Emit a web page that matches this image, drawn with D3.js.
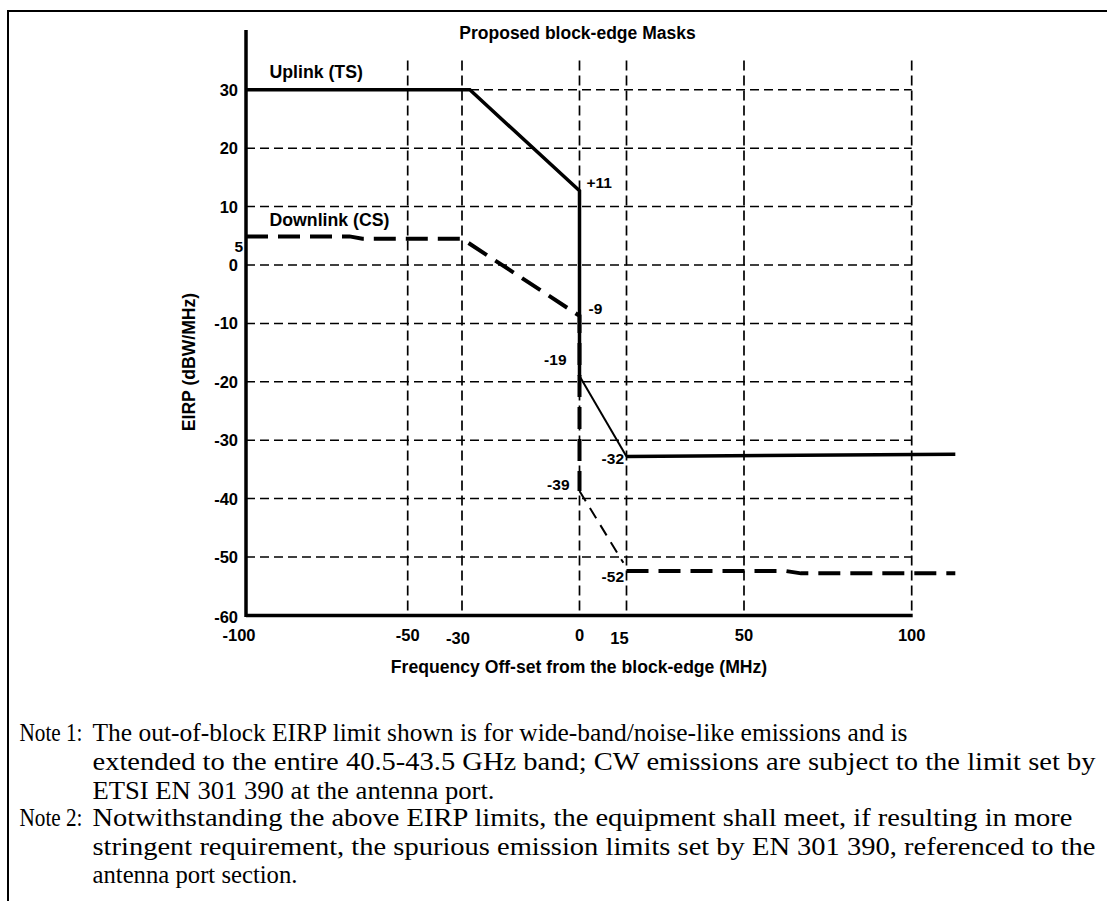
<!DOCTYPE html>
<html>
<head>
<meta charset="utf-8">
<script src="https://cdn.jsdelivr.net/npm/d3@7"></script>
<style>
  html, body { margin: 0; padding: 0; background: #fff; }
  svg { display: block; }
  .chart-text { font-family: "Liberation Sans", Arial, sans-serif; font-weight: bold; fill: #000; }
  .note-text { font-family: "Liberation Serif", "Times New Roman", serif; fill: #000; }
</style>
</head>
<body>
<svg id="chart"></svg>
<script>
const width = 1107;
const height = 901;

// tick values (x axis is not evenly spaced in the original)
const xTicks = [-100, -50, -30, 0, 15, 50, 100];
const yTicks = [30, 20, 10, 0, -10, -20, -30, -40, -50, -60];

// Uplink (TS) mask
const upFreq = [-100, -28, 0, 0];
const upEirp = [30, 30, 12.7, -19];
const upSlopeFreq = [0, 15];
const upSlopeEirp = [-19, -32.8];
const upFloorFreq = [15, 113];
const upFloorEirp = [-32.8, -32.4];

// Downlink (CS) mask
const downFreq = [-100, -68, -64, -30, 0, 0];
const downEirp = [4.9, 4.9, 4.5, 4.5, -8.7, -38.7];
const downSlopeFreq = [0, 14];
const downSlopeEirp = [-38.7, -51];
const downFloorFreq = [15, 62.5, 67, 113];
const downFloorEirp = [-52.4, -52.4, -52.8, -52.8];

// value labels on the curves
const labelText = ["+11", "-9", "-19", "-32", "-39", "-52", "5"];
const labelFreq = [0, 0, 0, 15, 0, 15, -100];
const labelEirp = [12.7, -8.7, -19, -32.8, -38.7, -52.4, 4.9];

const notes = [
    ["Note 1:", "The out-of-block EIRP limit shown is for wide-band/noise-like emissions and is"],
    ["", "extended to the entire 40.5-43.5 GHz band; CW emissions are subject to the limit set by"],
    ["", "ETSI EN 301 390 at the antenna port."],
    ["Note 2:", "Notwithstanding the above EIRP limits, the equipment shall meet, if resulting in more"],
    ["", "stringent requirement, the spurious emission limits set by EN 301 390, referenced to the"],
    ["", "antenna port section."]
];

// layout
const x = d3.scaleLinear()
    .domain(xTicks)
    .range([246, 407.7, 462, 579.5, 626.5, 744, 911.7]);
const y = d3.scaleLinear().domain([-60, 30]).range([615.4, 89.8]);

// [dx, dy, anchor] for each value label
const labelOffsets = [
    [7, -8, "start"], [9, -7.5, "start"], [-13, -16, "end"], [-2.5, 2, "end"],
    [-10, -7, "end"], [-2.5, 5, "end"], [-3, 10, "end"]
];
const xTickOffsets = { "-100": [-7, 0], "-30": [-4, 3], "15": [-7, 3] };
const noteBaselines = [741, 770, 799, 826, 855, 883];
const noteWidths = [815, 1003, 402, 980, 1003, 205];

const svg = d3.select("#chart")
    .attr("width", width)
    .attr("height", height);

// frame around the figure
svg.append("path")
    .attr("d", "M8,901V11H1107")
    .attr("fill", "none")
    .attr("stroke", "#000")
    .attr("stroke-width", 2);

// grid
const grid = svg.append("g").attr("stroke", "#000").attr("fill", "none");
grid.selectAll(".hgrid")
    .data(yTicks.filter(d => d > -60))
    .join("line")
    .attr("x1", x(-100)).attr("x2", x(100))
    .attr("y1", d => y(d)).attr("y2", d => y(d))
    .attr("stroke-width", 1.5)
    .attr("stroke-dasharray", "9,5");
grid.selectAll(".vgrid")
    .data(xTicks.filter(d => d > -100))
    .join("line")
    .attr("x1", d => x(d)).attr("x2", d => x(d))
    .attr("y1", y(35)).attr("y2", y(-60))
    .attr("stroke-width", 1.7)
    .attr("stroke-dasharray", "10,5");

// axes
svg.append("line")
    .attr("x1", x(-100)).attr("x2", x(-100))
    .attr("y1", 30).attr("y2", y(-60) + 1.5)
    .attr("stroke", "#000").attr("stroke-width", 3.5);
svg.append("line")
    .attr("x1", x(-100)).attr("x2", x(100) + 1)
    .attr("y1", y(-60)).attr("y2", y(-60))
    .attr("stroke", "#000").attr("stroke-width", 3.5);

svg.append("g").selectAll("text")
    .data(yTicks)
    .join("text")
    .attr("class", "chart-text")
    .attr("x", x(-100) - 8)
    .attr("y", d => y(d) + (d === -60 ? 2 : 0))
    .attr("text-anchor", "end")
    .attr("dominant-baseline", "central")
    .attr("font-size", 16.5)
    .text(d => d);

svg.append("g").selectAll("text")
    .data(xTicks)
    .join("text")
    .attr("class", "chart-text")
    .attr("x", d => x(d) + (xTickOffsets[d] ? xTickOffsets[d][0] : 0))
    .attr("y", d => y(-60) + 20 + (xTickOffsets[d] ? xTickOffsets[d][1] : 0))
    .attr("text-anchor", "middle")
    .attr("dominant-baseline", "central")
    .attr("font-size", 16.5)
    .text(d => d);

// titles
svg.append("text")
    .attr("class", "chart-text")
    .attr("x", 577.5).attr("y", 33)
    .attr("text-anchor", "middle")
    .attr("dominant-baseline", "central")
    .attr("font-size", 17.5)
    .text("Proposed block-edge Masks");

svg.append("text")
    .attr("class", "chart-text")
    .attr("x", 579).attr("y", 667)
    .attr("text-anchor", "middle")
    .attr("dominant-baseline", "central")
    .attr("font-size", 17.6)
    .text("Frequency Off-set from the block-edge (MHz)");

svg.append("text")
    .attr("class", "chart-text")
    .attr("transform", "translate(189,362) rotate(-90)")
    .attr("text-anchor", "middle")
    .attr("dominant-baseline", "central")
    .attr("font-size", 17.6)
    .text("EIRP (dBW/MHz)");

// mask curves
const line = d3.line().x(d => x(d[0])).y(d => y(d[1]));

function drawMask(freq, eirp, strokeWidth, dash) {
    svg.append("path")
        .datum(d3.zip(freq, eirp))
        .attr("d", line)
        .attr("fill", "none")
        .attr("stroke", "#000")
        .attr("stroke-width", strokeWidth)
        .attr("stroke-linejoin", "miter")
        .attr("stroke-dasharray", dash);
}

drawMask(upFreq, upEirp, 3.5, null);
drawMask(upSlopeFreq, upSlopeEirp, 2, null);
drawMask(upFloorFreq, upFloorEirp, 3.5, null);
drawMask(downFreq, downEirp, 4, "22,10");
drawMask(downSlopeFreq, downSlopeEirp, 2, "12,8");
drawMask(downFloorFreq, downFloorEirp, 4, "22,10");

// series names
svg.append("text")
    .attr("class", "chart-text")
    .attr("x", 269.5).attr("y", 71.5)
    .attr("dominant-baseline", "central")
    .attr("font-size", 17.7)
    .text("Uplink (TS)");
svg.append("text")
    .attr("class", "chart-text")
    .attr("x", 269.5).attr("y", 220)
    .attr("dominant-baseline", "central")
    .attr("font-size", 17.7)
    .text("Downlink (CS)");

// value labels
svg.append("g").selectAll("text")
    .data(labelText)
    .join("text")
    .attr("class", "chart-text")
    .attr("x", (d, i) => x(labelFreq[i]) + labelOffsets[i][0])
    .attr("y", (d, i) => y(labelEirp[i]) + labelOffsets[i][1])
    .attr("text-anchor", (d, i) => labelOffsets[i][2])
    .attr("dominant-baseline", "central")
    .attr("font-size", 15.5)
    .text(d => d);

// notes below the chart, each line fitted to the width it has in the original
const noteG = svg.append("g").attr("class", "note-text").attr("font-size", 25.5);
notes.forEach((n, i) => {
    if (n[0]) {
        noteG.append("text")
            .attr("x", 19.5).attr("y", noteBaselines[i])
            .attr("textLength", 63)
            .attr("lengthAdjust", "spacingAndGlyphs")
            .text(n[0]);
    }
    noteG.append("text")
        .attr("x", 92.5).attr("y", noteBaselines[i])
        .attr("textLength", noteWidths[i])
        .attr("lengthAdjust", "spacingAndGlyphs")
        .text(n[1]);
});
</script>
</body>
</html>
